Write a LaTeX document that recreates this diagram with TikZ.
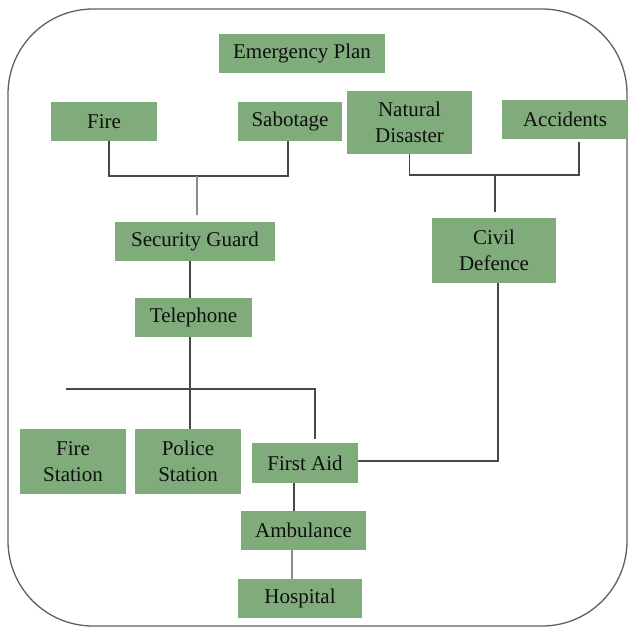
\documentclass[tikz,border=0pt]{standalone}
\usepackage{fontspec}
\setmainfont{Liberation Serif}
\definecolor{boxgreen}{RGB}{128,172,123}
\definecolor{linedark}{RGB}{72,72,72}
\definecolor{linelight}{RGB}{140,140,140}
\definecolor{framegray}{RGB}{95,95,95}
\definecolor{inkblack}{RGB}{15,15,15}
\begin{document}
\begin{tikzpicture}[x=1pt,y=-1pt,
  box/.style={fill=boxgreen, draw=none, inner sep=0pt, align=center,
    text=inkblack, font=\fontsize{21}{25.5}\selectfont},
  link/.style={draw=linedark, line width=1.2pt},
  faint/.style={draw=linelight, line width=1.2pt}]
\useasboundingbox (0,0) rectangle (628,627);

% outer frame
\draw[framegray, line width=1.3pt, rounded corners=85pt] (8,9) rectangle (627,626);

% boxes
\node[box, minimum width=166pt, minimum height=39pt] (plan)   at (302,53.5)  {Emergency Plan};
\node[box, minimum width=106pt, minimum height=39pt] (fire)   at (104,121.5) {Fire};
\node[box, minimum width=104pt, minimum height=39pt] (sab)    at (290,121.5) {Sabotage};
\node[box, minimum width=125pt, minimum height=63pt] (nat)    at (409.5,122.5) {Natural\\Disaster};
\node[box, minimum width=126pt, minimum height=39pt] (acc)    at (565,119.5) {Accidents};
\node[box, minimum width=160pt, minimum height=39pt] (guard)  at (195,241.5) {Security Guard};
\node[box, minimum width=124pt, minimum height=65pt] (civil)  at (494,250.5) {Civil\\Defence};
\node[box, minimum width=117pt, minimum height=39pt] (tel)    at (193.5,317.5) {Telephone};
\node[box, minimum width=106pt, minimum height=65pt] (fstat)  at (73,461.5)  {Fire\\Station};
\node[box, minimum width=106pt, minimum height=65pt] (pstat)  at (188,461.5) {Police\\Station};
\node[box, minimum width=106pt, minimum height=40pt] (aid)    at (305,463)   {First Aid};
\node[box, minimum width=125pt, minimum height=39pt] (amb)    at (303.5,530.5) {Ambulance};
\node[box, minimum width=124pt, minimum height=39pt] (hosp)   at (300,598.5) {Hospital};

% junction points
\coordinate (jfs) at (197,176);
\coordinate (jna) at (495,175);
\coordinate (jtel) at (190,389);
\coordinate (busL) at (66,389);
\coordinate (busR) at (315,389);
\coordinate (jamb) at (294,0);
\coordinate (jhos) at (292,0);

% Fire / Sabotage -> Security Guard
\draw[link] ([xshift=5pt]fire.south) |- (jfs) -| ([xshift=-2pt]sab.south);
\draw[faint] (jfs) -- ([yshift=7pt]guard.north -| jfs);

% Natural Disaster / Accidents -> Civil Defence
\draw[link] (nat.south) |- (jna) -| ([xshift=14pt,yshift=-3pt]acc.south);
\draw[link] (jna) -- ([yshift=6pt]civil.north -| jna);

% Security Guard -> Telephone -> services
\draw[link] (guard.south -| jtel) -- (tel.north -| jtel);
\draw[link] (tel.south -| jtel) -- (jtel);
\draw[link] (busL) -- (busR) -- ([yshift=4pt]aid.north -| busR);
\draw[link] (jtel) -- (pstat.north -| jtel);

% Civil Defence -> First Aid
\draw[link] ([xshift=4pt]civil.south) |- ([yshift=2pt]aid.east);

% First Aid -> Ambulance -> Hospital
\draw[link] (aid.south -| jamb) -- (amb.north -| jamb);
\draw[faint] (amb.south -| jhos) -- (hosp.north -| jhos);
\end{tikzpicture}
\end{document}
